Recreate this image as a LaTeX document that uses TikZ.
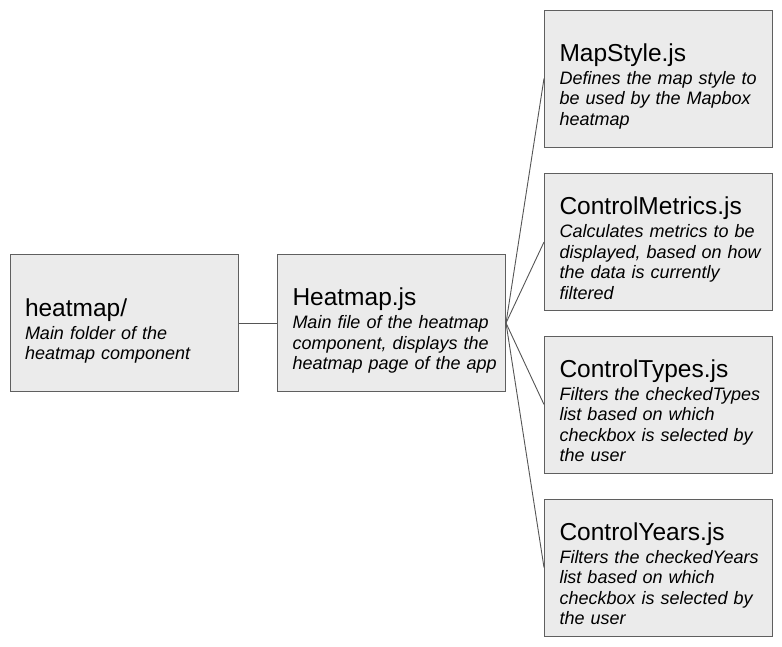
\documentclass[tikz,border=0pt]{standalone}
\usepackage{fontspec}
\setmainfont{Liberation Sans}
\usepackage{xcolor}
\usepackage{array}
\definecolor{boxfill}{HTML}{EBEBEB}
\definecolor{boxline}{HTML}{5F5F5F}
\definecolor{linkline}{HTML}{555555}
\newcommand{\filebox}[2]{{\fontsize{24.5}{24.5}\selectfont\rule{0pt}{36pt}#1}\\[2.5pt]%
    \begin{tabular}[t]{@{}>{\itshape}l@{}}#2\end{tabular}}
\begin{document}
\begin{tikzpicture}[x=1pt,y=-1pt]
    \tikzstyle{box}=[rectangle,draw=boxline,fill=boxfill,line width=1pt,
        minimum width=228pt,minimum height=137pt,text width=198pt,
        inner xsep=15pt,align=left,font=\fontsize{18}{20.5}\selectfont]
    \tikzstyle{link}=[draw=linkline,line width=0.9pt]

    \useasboundingbox (0,0) rectangle (782,646);

    % Main folder and main file
    \node [box] (folder) at (124, 323) {\filebox{heatmap/}{Main folder of the\\heatmap component}};
    \node [box] (main) at (391.5, 323) {\filebox{Heatmap.js}{Main file of the heatmap\\component, displays the\\heatmap page of the app}};

    % Child files
    \node [box] (mapstyle) at (658.5, 78.5) {\filebox{MapStyle.js}{Defines the map style to\\be used by the Mapbox\\heatmap}};
    \node [box] (metrics) at (658.5, 242) {\filebox{ControlMetrics.js}{Calculates metrics to be\\displayed, based on how\\the data is currently\\filtered}};
    \node [box] (types) at (658.5, 404.5) {\filebox{ControlTypes.js}{Filters the checkedTypes\\list based on which\\checkbox is selected by\\the user}};
    \node [box] (years) at (658.5, 567.5) {\filebox{ControlYears.js}{Filters the checkedYears\\list based on which\\checkbox is selected by\\the user}};

    \draw [link] (folder.east) -- (main.west);
    \draw [link] (main.east) -- (mapstyle.west);
    \draw [link] (main.east) -- (metrics.west);
    \draw [link] (main.east) -- (types.west);
    \draw [link] (main.east) -- (years.west);
\end{tikzpicture}
\end{document}
